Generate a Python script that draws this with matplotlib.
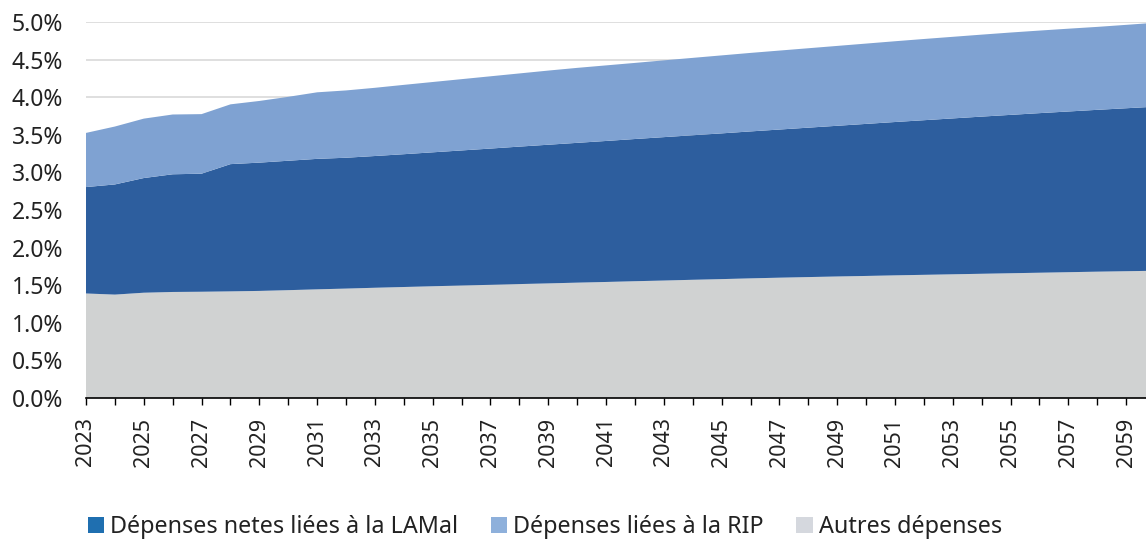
import matplotlib
matplotlib.use("Agg")
import matplotlib.pyplot as plt
from matplotlib.ticker import PercentFormatter, FixedLocator
from matplotlib.patches import Patch

years = list(range(2023, 2061))

autres = [1.390, 1.375, 1.400, 1.410, 1.413, 1.418, 1.424, 1.434, 1.445, 1.455,
          1.466, 1.476, 1.486, 1.496, 1.505, 1.515, 1.524, 1.534, 1.543, 1.553,
          1.562, 1.572, 1.581, 1.591, 1.600, 1.608, 1.616, 1.623, 1.631, 1.638,
          1.645, 1.652, 1.659, 1.666, 1.673, 1.680, 1.686, 1.692]

lamal = [1.415, 1.465, 1.525, 1.565, 1.570, 1.692, 1.706, 1.721, 1.735, 1.740,
         1.752, 1.766, 1.781, 1.796, 1.812, 1.828, 1.844, 1.859, 1.875, 1.891,
         1.907, 1.922, 1.938, 1.954, 1.970, 1.987, 2.004, 2.022, 2.039, 2.056,
         2.073, 2.090, 2.106, 2.122, 2.137, 2.152, 2.167, 2.182]

rip = [0.720, 0.770, 0.790, 0.795, 0.792, 0.795, 0.820, 0.850, 0.885, 0.895,
       0.907, 0.922, 0.935, 0.948, 0.961, 0.973, 0.986, 0.997, 1.005, 1.012,
       1.021, 1.029, 1.037, 1.044, 1.050, 1.056, 1.062, 1.068, 1.074, 1.080,
       1.085, 1.090, 1.095, 1.098, 1.101, 1.103, 1.109, 1.116]

labels = ["Dépenses netes liées à la LAMal", "Dépenses liées à la RIP", "Autres dépenses"]
y_ticks = [0.0, 0.5, 1.0, 1.5, 2.0, 2.5, 3.0, 3.5, 4.0, 4.5, 5.0]

plt.rcParams['font.family'] = ['Noto Sans', 'DejaVu Sans']
text_color = "#222222"

fig = plt.figure(figsize=(11.46, 5.42), dpi=100)
ax = fig.add_axes([86/1146, 144/542, 1069/1146, 376/542])

ax.stackplot(years, autres, lamal, rip,
             colors=["#D0D2D2", "#2D5E9E", "#7FA2D2"], linewidth=0)

ax.set_xlim(2023, 2060)
ax.set_ylim(0, 5.0)
ax.yaxis.set_major_locator(FixedLocator(y_ticks))
ax.yaxis.set_major_formatter(PercentFormatter(decimals=1))
ax.grid(axis='y', color="#D9D9D9", linewidth=1.2)
ax.set_axisbelow(True)

ax.set_xticks(years)
ax.set_xticklabels([str(y) if (y - 2023) % 2 == 0 else "" for y in years],
                   rotation=90, fontsize=15.5, color=text_color)
ax.tick_params(axis='x', length=5, width=1, color="#000000", pad=9)
ax.tick_params(axis='y', length=0, pad=16.5, labelsize=16.5, labelcolor=text_color)

for s in ['top', 'right', 'left']:
    ax.spines[s].set_visible(False)
ax.spines['bottom'].set_color("#000000")
ax.spines['bottom'].set_linewidth(1.2)

handles = [Patch(facecolor="#1F6FB0", edgecolor='none'),
           Patch(facecolor="#8EB0DB", edgecolor='none'),
           Patch(facecolor="#D5D8DE", edgecolor='none')]
fig.legend(handles, labels, loc='center left', bbox_to_anchor=(88/1146, 1 - 527/542),
           ncol=3, frameon=False, fontsize=16.8, handlelength=0.7, handleheight=0.7,
           handletextpad=0.25, columnspacing=1.4, labelcolor=text_color, borderaxespad=0,
           borderpad=0)

fig.savefig("out.png", dpi=100)
